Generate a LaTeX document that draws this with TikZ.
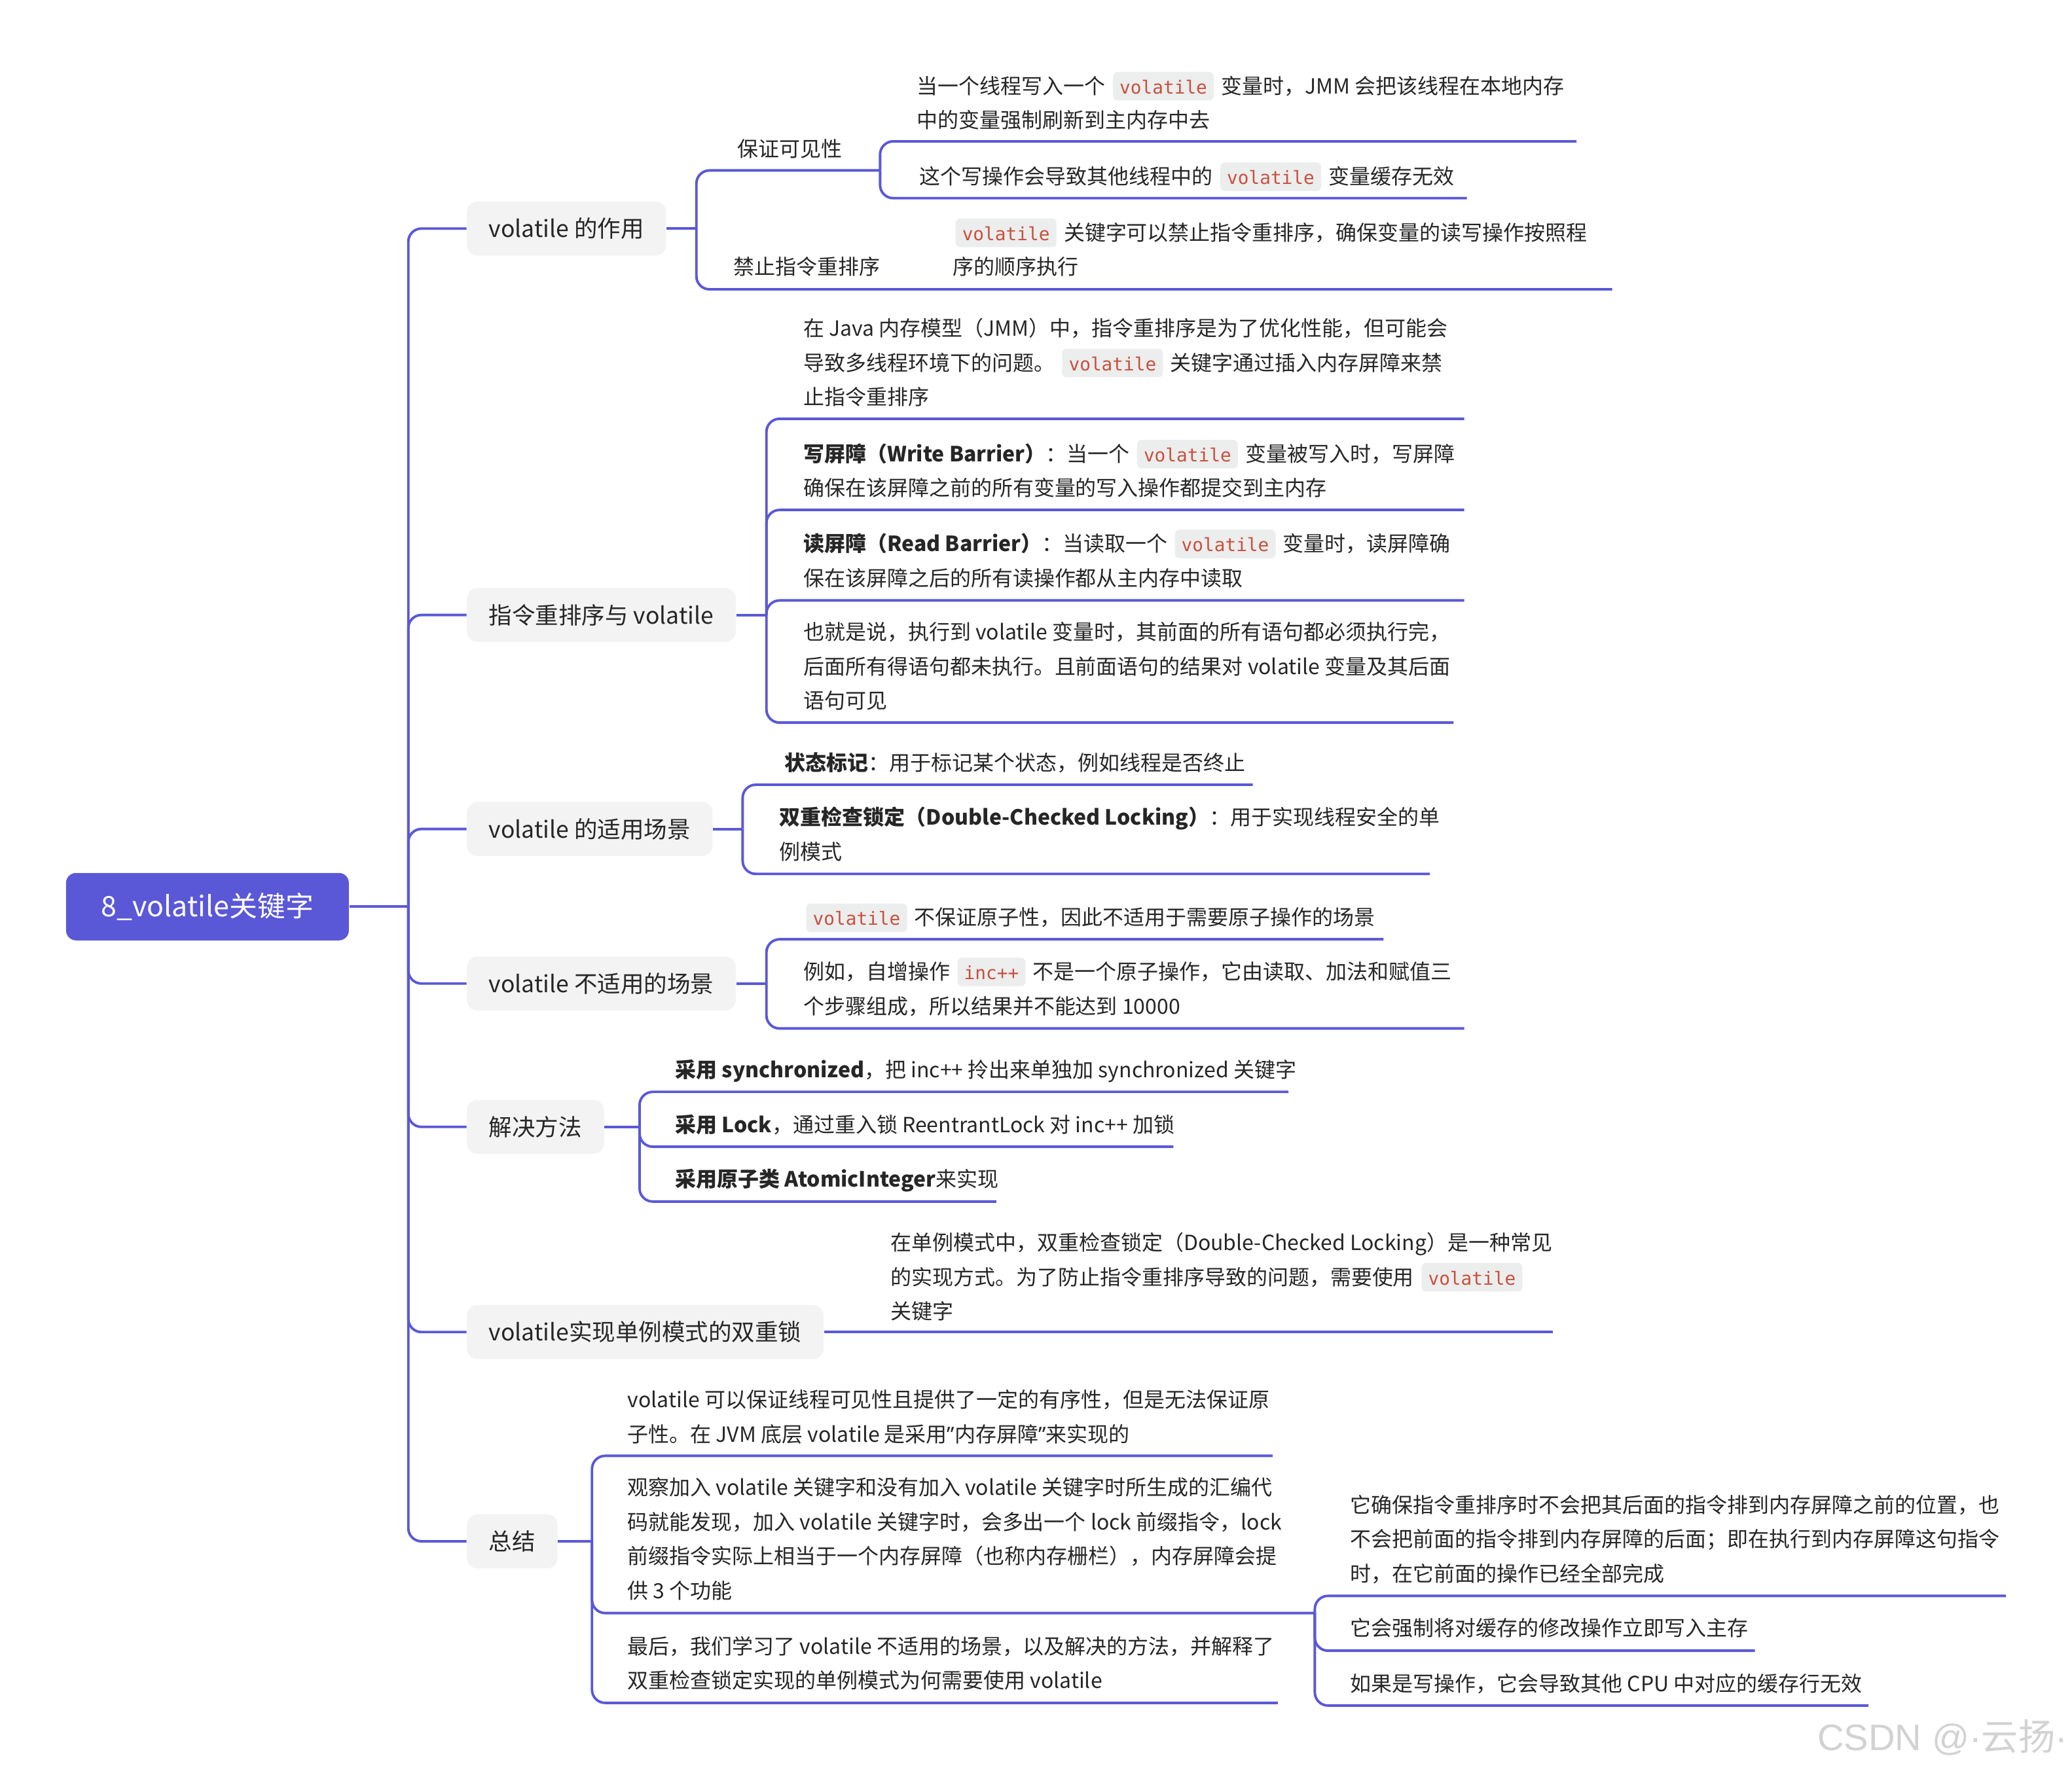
\documentclass[tikz,border=0pt]{standalone}
\usepackage{fontspec}
\setmainfont{Noto Sans CJK SC}
\newfontfamily\kodefont{DejaVu Sans Mono}
\newfontfamily\wmfont{Liberation Sans}
\newfontfamily\latfont{Noto Sans}
\definecolor{lc}{HTML}{5A58D6}
\definecolor{subfill}{HTML}{F3F3F3}
\definecolor{txtcol}{HTML}{262626}
\definecolor{codecol}{HTML}{C9503D}
\definecolor{codebg}{HTML}{ECEDED}
\definecolor{wmcol}{HTML}{D2D2D2}
\tikzset{
  kodebox/.style={fill=codebg, draw=none, text=codecol, font=\kodefont\fontsize{7.9pt}{9pt}\selectfont,
    inner xsep=2.9pt, inner ysep=2.1pt, text height=7.4pt, text depth=0.8pt, rounded corners=2pt,
    anchor=base, outer sep=0pt, minimum width=0pt, minimum height=0pt},
  tx/.style={anchor=base west, inner sep=0pt, outer sep=0pt, text=txtcol,
    font=\fontsize{9.1pt}{14.9pt}\selectfont},
  subbox/.style={anchor=west, fill=subfill, text=txtcol, rounded corners=4.6pt, inner xsep=9.6pt,
    inner ysep=0pt, minimum height=23.5pt, font=\fontsize{10.1pt}{12pt}\selectfont},
  rootbox/.style={fill=lc, text=white, rounded corners=4.3pt, inner sep=0pt, minimum width=122.9pt,
    minimum height=29.3pt, font=\fontsize{12.2pt}{15pt}\selectfont},
  conn/.style={draw=lc, line width=1.1pt},
  rnd/.style={rounded corners=5.7pt}
}
\newcommand{\kode}[1]{\hspace{1.2pt}\tikz[baseline=(kc.base)]\node[kodebox](kc){#1};\hspace{1.2pt}}
\newcommand{\txl}[4]{\node[tx] (#1) at (#2,#3) {#4};}
\begin{document}
\begin{tikzpicture}[x=0.020185cm,y=-0.020185cm]
\fill[white] (0,0) rectangle (1568,1341.6);
\useasboundingbox (0,0) rectangle (1568,1341.6);

% root and main topics
\node[rootbox] (root) at (157,686.3) {8\_volatile关键字};
\node[subbox] (s1) at (353,173) {volatile 的作用};
\node[subbox] (s2) at (353,465.5) {指令重排序与 volatile};
\node[subbox] (s3) at (353,627.5) {volatile 的适用场景};
\node[subbox] (s4) at (353,744.5) {volatile 不适用的场景};
\node[subbox] (s5) at (353,853) {解决方法};
\node[subbox] (s6) at (353,1008.3) {volatile实现单例模式的双重锁};
\node[subbox] (s7) at (353,1166.7) {总结};

% topic 1
\txl{a0}{558}{118.5}{保证可见性}
\txl{a1a}{694}{71}{当一个线程写入一个 \kode{volatile} 变量时，JMM 会把该线程在本地内存}
\txl{a1b}{694}{97}{中的变量强制刷新到主内存中去}
\txl{a2}{696}{139.5}{这个写操作会导致其他线程中的 \kode{volatile} 变量缓存无效}
\txl{b0}{555}{208}{禁止指令重排序}
\txl{b1a}{721}{182}{\kode{volatile} 关键字可以禁止指令重排序，确保变量的读写操作按照程}
\txl{b1b}{721}{208}{序的顺序执行}

% topic 2
\txl{c1a}{608}{254.5}{在 Java 内存模型（JMM）中，指令重排序是为了优化性能，但可能会}
\txl{c1b}{608}{280.5}{导致多线程环境下的问题。 \kode{volatile} 关键字通过插入内存屏障来禁}
\txl{c1c}{608}{306.5}{止指令重排序}
\txl{c2a}{608}{349.5}{\textbf{写屏障（Write Barrier）}：当一个 \kode{volatile} 变量被写入时，写屏障}
\txl{c2b}{608}{375.5}{确保在该屏障之前的所有变量的写入操作都提交到主内存}
\txl{c3a}{608}{417.5}{\textbf{读屏障（Read Barrier）}：当读取一个 \kode{volatile} 变量时，读屏障确}
\txl{c3b}{608}{443.5}{保在该屏障之后的所有读操作都从主内存中读取}
\txl{c4a}{608}{484.5}{也就是说，执行到 volatile 变量时，其前面的所有语句都必须执行完，}
\txl{c4b}{608}{510.5}{后面所有得语句都未执行。且前面语句的结果对 volatile 变量及其后面}
\txl{c4c}{608}{536.5}{语句可见}

% topic 3
\txl{d1}{594}{583.5}{\textbf{状态标记}：用于标记某个状态，例如线程是否终止}
\txl{d2a}{590}{624.5}{\textbf{双重检查锁定（Double-Checked Locking）}：用于实现线程安全的单}
\txl{d2b}{590}{650.5}{例模式}

% topic 4
\txl{e1}{608}{700.5}{\kode{volatile} 不保证原子性，因此不适用于需要原子操作的场景}
\txl{e2a}{608}{741.5}{例如，自增操作 \kode{inc++} 不是一个原子操作，它由读取、加法和赋值三}
\txl{e2b}{608}{767.5}{个步骤组成，所以结果并不能达到 10000}

% topic 5
\txl{f1}{511}{815.5}{\textbf{采用 synchronized}，把 inc++ 拎出来单独加 synchronized 关键字}
\txl{f2}{511}{857.5}{\textbf{采用 Lock}，通过重入锁 ReentrantLock 对 inc++ 加锁}
\txl{f3}{511}{898.5}{\textbf{采用原子类 AtomicInteger}来实现}

% topic 6
\txl{g1a}{674}{946.5}{在单例模式中，双重检查锁定（Double-Checked Locking）是一种常见}
\txl{g1b}{674}{972.5}{的实现方式。为了防止指令重排序导致的问题，需要使用 \kode{volatile}}
\txl{g1c}{674}{998.5}{关键字}

% topic 7
\txl{h1a}{475}{1065.5}{volatile 可以保证线程可见性且提供了一定的有序性，但是无法保证原}
\txl{h1b}{475}{1091.5}{子性。在 JVM 底层 volatile 是采用{\latfont ”}内存屏障{\latfont ”}来实现的}
\txl{h2a}{475}{1132}{观察加入 volatile 关键字和没有加入 volatile 关键字时所生成的汇编代}
\txl{h2b}{475}{1158}{码就能发现，加入 volatile 关键字时，会多出一个 lock 前缀指令，lock}
\txl{h2c}{475}{1184}{前缀指令实际上相当于一个内存屏障（也称内存栅栏），内存屏障会提}
\txl{h2d}{475}{1210}{供 3 个功能}
\txl{k1a}{1022}{1145}{它确保指令重排序时不会把其后面的指令排到内存屏障之前的位置，也}
\txl{k1b}{1022}{1171}{不会把前面的指令排到内存屏障的后面；即在执行到内存屏障这句指令}
\txl{k1c}{1022}{1197}{时，在它前面的操作已经全部完成}
\txl{k2}{1022}{1238.5}{它会强制将对缓存的修改操作立即写入主存}
\txl{k3}{1022}{1280.5}{如果是写操作，它会导致其他 CPU 中对应的缓存行无效}
\txl{h3a}{475}{1252}{最后，我们学习了 volatile 不适用的场景，以及解决的方法，并解释了}
\txl{h3b}{475}{1278}{双重检查锁定实现的单例模式为何需要使用 volatile}

% watermark
\node[anchor=base west, inner sep=0pt, text=wmcol, font=\fontsize{16pt}{18pt}\selectfont] (wm) at (1375,1325) {{\wmfont CSDN @·}云扬{\wmfont ·}};

% connectors: root -> topics
\coordinate (J0) at (309,686.3);
\draw[conn] (root.east) -- (J0);
\foreach \s in {s1,s2,s3,s4,s5,s6,s7}{\draw[conn,rnd] (J0) |- (\s.west);}

% topic 1
\coordinate (J1) at (527,173);
\coordinate (u1a) at (666,129);
\coordinate (u1b) at (1220,219);
\coordinate (u1a1) at (1193,107);
\coordinate (u1a2) at (1110,150);
\draw[conn] (s1.east) -- (J1);
\draw[conn,rnd] (J1) |- (u1a);
\draw[conn,rnd] (J1) |- (u1b);
\draw[conn,rnd] (u1a) |- (u1a1);
\draw[conn,rnd] (u1a) |- (u1a2);

% topic 2
\coordinate (J2) at (580,465.5);
\coordinate (u2a) at (1108,317);
\coordinate (u2b) at (1108,386);
\coordinate (u2c) at (1108,454.5);
\coordinate (u2d) at (1100,547);
\draw[conn] (s2.east) -- (J2);
\foreach \u in {u2a,u2b,u2c,u2d}{\draw[conn,rnd] (J2) |- (\u);}

% topic 3
\coordinate (J3) at (562,627.5);
\coordinate (u3a) at (948,594);
\coordinate (u3b) at (1082,661.5);
\draw[conn] (s3.east) -- (J3);
\foreach \u in {u3a,u3b}{\draw[conn,rnd] (J3) |- (\u);}

% topic 4
\coordinate (J4) at (580,744.5);
\coordinate (u4a) at (1047,711);
\coordinate (u4b) at (1108,778.5);
\draw[conn] (s4.east) -- (J4);
\foreach \u in {u4a,u4b}{\draw[conn,rnd] (J4) |- (\u);}

% topic 5
\coordinate (J5) at (484,853);
\coordinate (u5a) at (975,826.5);
\coordinate (u5b) at (888,868);
\coordinate (u5c) at (754,909.5);
\draw[conn] (s5.east) -- (J5);
\foreach \u in {u5a,u5b,u5c}{\draw[conn,rnd] (J5) |- (\u);}

% topic 6
\coordinate (u6) at (1175,1008.3);
\draw[conn] (s6.east) -- (u6);

% topic 7
\coordinate (J7) at (448,1166.7);
\coordinate (u7a) at (963,1102);
\coordinate (u7b) at (995,1221);
\coordinate (u7c) at (967,1289);
\coordinate (u7b1) at (1518,1208);
\coordinate (u7b2) at (1328,1249.5);
\coordinate (u7b3) at (1414,1291);
\draw[conn] (s7.east) -- (J7);
\foreach \u in {u7a,u7b,u7c}{\draw[conn,rnd] (J7) |- (\u);}
\foreach \u in {u7b1,u7b2,u7b3}{\draw[conn,rnd] (u7b) |- (\u);}
\end{tikzpicture}
\end{document}
